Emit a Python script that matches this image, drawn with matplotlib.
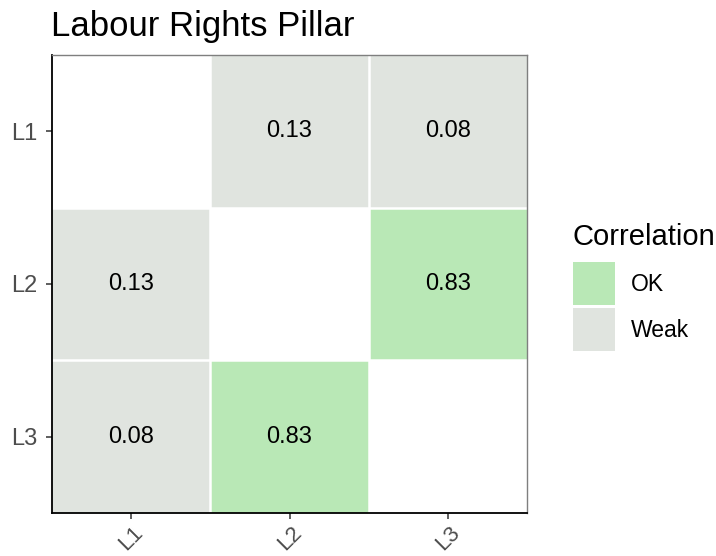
import matplotlib
matplotlib.use("Agg")
import matplotlib.pyplot as plt
import numpy as np
from matplotlib.colors import ListedColormap
from matplotlib.patches import Patch

plt.rcParams['font.family'] = ['Liberation Sans', 'DejaVu Sans']

labels = ["L1", "L2", "L3"]
corr = [[np.nan, 0.13, 0.08],
        [0.13, np.nan, 0.83],
        [0.08, 0.83, np.nan]]
categories = ["OK", "Weak"]
cat_colors = ["#B9E8B6", "#E0E4DF"]
title = "Labour Rights Pillar"
legend_title = "Correlation"
threshold = 0.5

vals = np.array(corr, dtype=float)
cat = np.where(np.isnan(vals), np.nan, np.where(vals >= threshold, 0, 1))

fig = plt.figure(figsize=(7.16, 5.56), dpi=100)
ax = fig.add_axes([52/716, 1-513/556, 475/716, 458/556])

cmap = ListedColormap(cat_colors)
cmap.set_bad("white")
masked = np.ma.masked_invalid(cat)
ax.pcolormesh(np.arange(4), np.arange(4), masked, cmap=cmap, vmin=-0.5, vmax=1.5)
for k in (1, 2):
    ax.axhline(k, color="white", linewidth=1.8, zorder=2)
    ax.axvline(k, color="white", linewidth=1.8, zorder=2)
ax.set_xlim(0, 3)
ax.set_ylim(3, 0)

for i in range(3):
    for j in range(3):
        if not np.isnan(vals[i, j]):
            ax.text(j + 0.5, i + 0.5, f"{vals[i, j]:.2f}", ha="center", va="center",
                    fontsize=17, color="black", zorder=3)

ax.set_xticks(np.arange(3) + 0.5)
ax.set_yticks(np.arange(3) + 0.5)
ax.set_xticklabels(labels, rotation=45, ha="center", va="top", color="#4D4D4D", fontsize=16)
ax.set_yticklabels(labels, color="#4D4D4D", fontsize=17)
ax.tick_params(axis="both", length=4.5, width=1.1, color="#333333")
ax.tick_params(axis="y", pad=6)
ax.tick_params(axis="x", pad=2)
for s in ["left", "bottom"]:
    ax.spines[s].set_color("black")
    ax.spines[s].set_linewidth(1.3)
    ax.spines[s].set_zorder(4)
for s in ["top", "right"]:
    ax.spines[s].set_color("#7F7F7F")
    ax.spines[s].set_linewidth(1.0)
    ax.spines[s].set_zorder(4)

fig.text(51/716, 1-36/556, title, fontsize=25, ha="left", va="baseline")

handles = [Patch(facecolor=c, edgecolor="none") for c in cat_colors]
leg = fig.legend(handles, categories, title=legend_title, loc="upper left",
                 bbox_to_anchor=(568/716, 1-218/556), frameon=False, fontsize=16.5,
                 title_fontsize=21, handlelength=1.83, handleheight=2.5,
                 labelspacing=0.13, handletextpad=0.7, borderpad=0.2, borderaxespad=0)
leg._legend_box.align = "left"
leg._legend_box.sep = 8.5

fig.savefig("out.png", dpi=100)
